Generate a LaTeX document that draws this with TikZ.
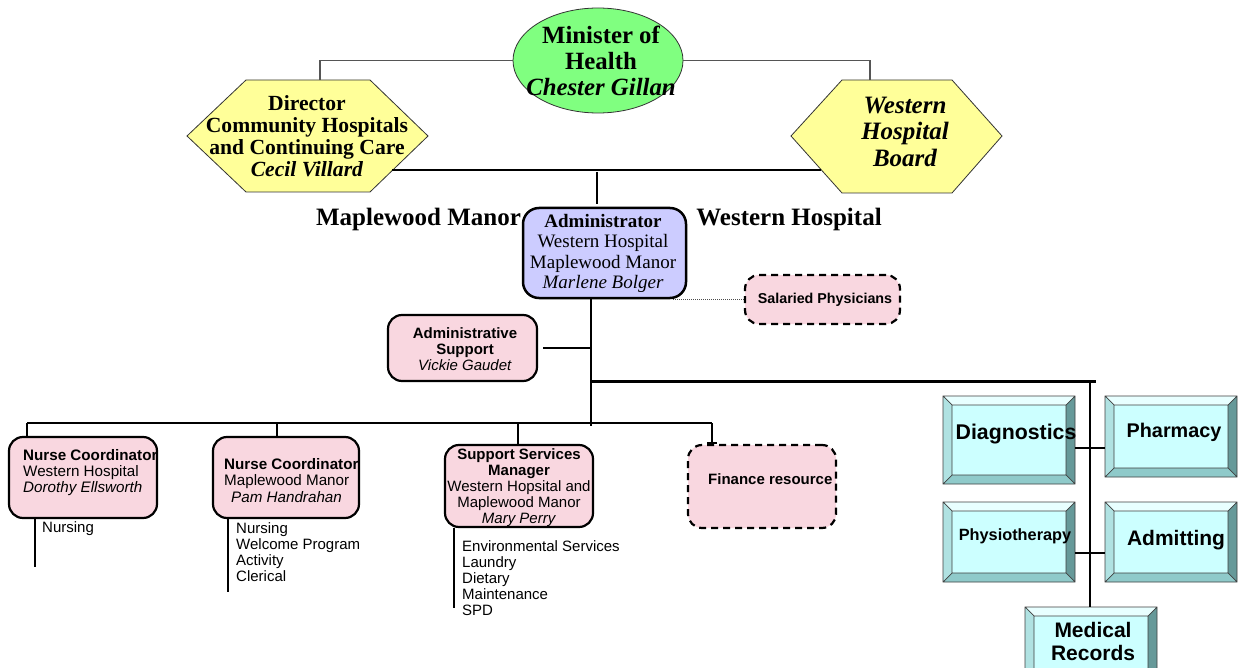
\documentclass[tikz,border=0pt]{standalone}
\usepackage{fontspec}
\setmainfont{Liberation Serif}
\setsansfont{Liberation Sans}
\usetikzlibrary{shapes.geometric,arrows.meta}
\definecolor{mgreen}{HTML}{80FF80}
\definecolor{myellow}{HTML}{FFFF99}
\definecolor{mlav}{HTML}{CCCCFF}
\definecolor{mpink}{HTML}{F9D7E0}
\definecolor{cface}{HTML}{CCFFFF}
\definecolor{ctop}{HTML}{E8FFFF}
\definecolor{cleft}{HTML}{B0E2E2}
\definecolor{cright}{HTML}{669999}
\definecolor{cbot}{HTML}{8FCACA}
\definecolor{lgray}{HTML}{555555}
\newcommand\bevelbox[5]{%
 \node[bvbox, minimum width={#4-#2}, minimum height={#5-#3}] (#1) at ({(#2+#4)/2},{(#3+#5)/2}) {};
 \fill[ctop] (#2,#3) -- (#4,#3) -- ({#4-9},{#3+9}) -- ({#2+9},{#3+9}) -- cycle;
 \fill[cleft] (#2,#3) -- ({#2+9},{#3+9}) -- ({#2+9},{#5-9}) -- (#2,#5) -- cycle;
 \fill[cright] (#4,#3) -- (#4,#5) -- ({#4-9},{#5-9}) -- ({#4-9},{#3+9}) -- cycle;
 \fill[cbot] (#2,#5) -- (#4,#5) -- ({#4-9},{#5-9}) -- ({#2+9},{#5-9}) -- cycle;
 \draw[bvline] (#2,#3) rectangle (#4,#5) ({#2+9},{#3+9}) rectangle ({#4-9},{#5-9})
   (#2,#3) -- ({#2+9},{#3+9}) (#4,#3) -- ({#4-9},{#3+9})
   (#2,#5) -- ({#2+9},{#5-9}) (#4,#5) -- ({#4-9},{#5-9});
}
\begin{document}
\begin{tikzpicture}[x=1pt,y=-1pt,
  toplink/.style={line width=1.2pt, draw=lgray},
  bigline/.style={line width=2.4pt, draw=black},
  midline/.style={line width=1.4pt, draw=black},
  hexst/.style={draw=black!80, line width=0.8pt, fill=myellow},
  sertxt/.style={align=center, inner sep=0pt},
  sanstxt/.style={align=left, inner sep=0pt, font=\sffamily\fontsize{15}{16}\selectfont},
  pinkbox/.style={draw=black, line width=2.2pt, fill=mpink, rounded corners=14pt, inner sep=0pt},
  dashbox/.style={pinkbox, dash pattern=on 7pt off 5pt},
  bvbox/.style={rectangle, fill=cface, inner sep=0pt, draw=none},
  bvline/.style={draw=black!75, line width=0.7pt},
  bvtxt/.style={inner sep=0pt, align=center, font=\sffamily\bfseries\fontsize{21}{23}\selectfont}]
\useasboundingbox (0,0) rectangle (1238,668);
\clip (0,0) rectangle (1238,668);
\fill[white] (0,0) rectangle (1238,668);

% ---- Minister
\coordinate (dirTop) at (320,80);
\coordinate (boardTop) at (870,80);
\node[ellipse, draw=black!80, line width=0.8pt, fill=mgreen, minimum width=170, minimum height=105, inner sep=0pt] (min) at (598,60.5) {};
\draw[toplink] (min.west) -| (dirTop);
\draw[toplink] (min.east) -| (boardTop);
\node[sertxt, font=\fontsize{24.8}{26}\selectfont\bfseries] (mint) at (601,61) {Minister of\\Health\\\textit{Chester Gillan}};

% ---- Director hexagon
\draw[hexst] (246,80) -- (370,80) -- (428,136) -- (370,192) -- (246,192) -- (187,136) -- cycle;
\node[sertxt, font=\fontsize{21.6}{22}\selectfont\bfseries] (dirt) at (307,136.5) {Director\\Community Hospitals\\and Continuing Care\\\textit{Cecil Villard}};

% ---- Board hexagon
\draw[hexst] (842,80) -- (952,80) -- (1002,136) -- (952,193) -- (842,193) -- (791,136) -- cycle;
\node[sertxt, font=\fontsize{25}{26.5}\selectfont\bfseries\itshape] (boardt) at (905,131.5) {Western\\Hospital\\Board};

\coordinate (dirR) at (392,170);
\coordinate (boardL) at (821,170);
\draw[bigline] (dirR) -- (boardL);
\coordinate (v1) at (597,172);
\coordinate (v2) at (597,204);
\draw[midline] (v1) -- (v2);

% ---- labels
\node[sertxt, font=\fontsize{25}{27}\selectfont\bfseries] (lblMM) at (418.5,219) {Maplewood Manor};
\node[sertxt, font=\fontsize{25}{27}\selectfont\bfseries] (lblWH) at (789,219) {Western Hospital};

% ---- Administrator
\node[draw=black, line width=2.5pt, fill=mlav, rounded corners=16pt, minimum width=163, minimum height=90, inner sep=0pt] (admin) at (604.5,253) {};
\node[sertxt, font=\fontsize{19}{20.5}\selectfont] (admint) at (603,253.5) {\textbf{Administrator}\\Western Hospital\\Maplewood Manor\\\textit{Marlene Bolger}};

% ---- Salaried physicians
\node[dashbox, minimum width=155, minimum height=49] (sal) at (822.5,299.5) {};
\node[sanstxt, font=\sffamily\bfseries\fontsize{14.3}{15}\selectfont] (salt) at (825,300) {Salaried Physicians};
\draw[line width=0.9pt, draw=black!70, dash pattern=on 1pt off 1pt] ([xshift=-14pt]admin.south east) -- (sal.west |- admin.south);

% ---- Trunk
\coordinate (trBot) at (591,426);
\coordinate (tr1) at (591,348);
\coordinate (rA) at (591,381.5);
\coordinate (rB) at (1096,381.5);
\coordinate (rC) at (1090,381.5);
\draw[bigline] (admin.south -| trBot) -- (trBot);
\draw[bigline] (rA) -- (rB);

% ---- Administrative support
\node[pinkbox, minimum width=149, minimum height=66] (asup) at (462.5,348) {};
\node[sanstxt, align=center] (asupt) at (465,349) {\textbf{Administrative}\\\textbf{Support}\\\textit{Vickie Gaudet}};
\draw[midline, shorten <=5pt] (asup.east) -- (tr1);

% ---- lower branch
\coordinate (hL) at (27,423);
\coordinate (d2) at (277,423);
\coordinate (d3) at (518,423);
\coordinate (hR) at (712,423);
\draw[bigline] (hL) -- (hR);

\node[pinkbox, minimum width=148, minimum height=81] (nc1) at (83,477.5) {};
\node[pinkbox, minimum width=146, minimum height=81] (nc2) at (286,477.5) {};
\node[pinkbox, minimum width=148, minimum height=82] (ssm) at (519,486) {};
\node[dashbox, minimum width=148, minimum height=83] (fin) at (762,486.5) {};

\draw[bigline] (hL) -- (nc1.north -| hL);
\draw[bigline] (d2) -- (nc2.north -| d2);
\draw[bigline] (d3) -- (ssm.north -| d3);
\draw[bigline, -{Bar[width=10pt,line width=2pt]}] (hR) -- (fin.north -| hR);

\node[sanstxt, anchor=west, font=\sffamily\fontsize{15.2}{16}\selectfont] (nc1t) at (23,472.5) {\textbf{Nurse Coordinator}\\Western Hospital\\\textit{Dorothy Ellsworth}};
\node[sanstxt, anchor=west, font=\sffamily\fontsize{15.2}{16.5}\selectfont] (nc2t) at (224,480.5) {\textbf{Nurse Coordinator}\\Maplewood Manor\\\hspace*{7pt}\textit{Pam Handrahan}};
\node[sanstxt, align=center] (ssmt) at (519,487.5) {\textbf{Support Services}\\\textbf{Manager}\\Western Hopsital and\\Maplewood Manor\\\textit{Mary Perry}};
\node[sanstxt, anchor=west, font=\sffamily\bfseries\fontsize{15}{16}\selectfont] (fint) at (708,479) {Finance resource};

% sub lists
\coordinate (nc1b) at (35,567);
\coordinate (nc2b) at (228,592);
\coordinate (ssmb) at (454,608);
\draw[midline, line width=2pt] (nc1.south -| nc1b) -- (nc1b);
\draw[midline, line width=2pt] (nc2.south -| nc2b) -- (nc2b);
\draw[midline, line width=2pt] (ssm.south -| ssmb) -- (ssmb);
\node[sanstxt, anchor=west] (l1) at (42,528.5) {Nursing};
\node[sanstxt, anchor=west] (l2) at (236,552.5) {Nursing\\Welcome Program\\Activity\\Clerical};
\node[sanstxt, anchor=west] (l3) at (462,578) {Environmental Services\\Laundry\\Dietary\\Maintenance\\SPD};

% ---- bevel boxes
\bevelbox{diag}{943}{396}{1075}{484}
\bevelbox{pharm}{1105}{396}{1237}{477}
\bevelbox{physio}{943}{502}{1075}{582}
\bevelbox{admit}{1105}{502}{1237}{582}
\bevelbox{medrec}{1025}{607}{1157}{695}
\coordinate (j1) at (1090,448);
\coordinate (j2) at (1090,553);
\draw[bigline, line width=2pt] (rC) -- (rC |- medrec.north);
\draw[bigline, line width=2pt] (diag.east |- j1) -- (pharm.west |- j1);
\draw[bigline, line width=2pt] (physio.east |- j2) -- (admit.west |- j2);
\node[bvtxt, font=\sffamily\bfseries\fontsize{21.3}{23}\selectfont] (diagt) at (1016,434.5) {Diagnostics};
\node[bvtxt, font=\sffamily\bfseries\fontsize{19.8}{21}\selectfont] (pharmt) at (1174,432.5) {Pharmacy};
\node[bvtxt, font=\sffamily\bfseries\fontsize{16.3}{18}\selectfont] (physiot) at (1015,536.5) {Physiotherapy};
\node[bvtxt] (admitt) at (1176,540.5) {Admitting};
\node[bvtxt] (medrect) at (1093,641) {Medical\\Records};
\end{tikzpicture}
\end{document}
